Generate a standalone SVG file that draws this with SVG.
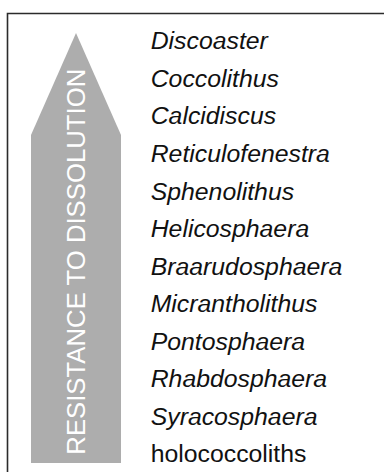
<svg xmlns="http://www.w3.org/2000/svg" width="384" height="472" viewBox="0 0 384 472">
<style>
.frame{fill:none;stroke:#2b2b2b;stroke-width:1.6}
.arrow{fill:#adadad}
.arrowlabel{font-family:"Liberation Sans",Arial,sans-serif;font-size:25.5px;fill:#ffffff;text-anchor:middle}
.sp{font-family:"Liberation Sans",Arial,sans-serif;font-size:24.8px;fill:#111111;font-style:italic}
.plain{font-style:normal}
</style>
<rect width="384" height="472" fill="#ffffff"/>
<path class="frame" d="M7.5 472 V13.5 H384"/>
<g id="arrow">
<polygon class="arrow" points="76,33 121,135 121,463 31,463 31,135"/>
<text class="arrowlabel" transform="translate(84.5,261.7) rotate(-90)" textLength="386" lengthAdjust="spacingAndGlyphs">RESISTANCE TO DISSOLUTION</text>
</g>
<g id="taxa">
<text class="sp" x="150.7" y="49.3">Discoaster</text>
<text class="sp" x="150.7" y="86.9">Coccolithus</text>
<text class="sp" x="150.7" y="124.4">Calcidiscus</text>
<text class="sp" x="150.7" y="162">Reticulofenestra</text>
<text class="sp" x="150.7" y="199.5">Sphenolithus</text>
<text class="sp" x="150.7" y="237.1">Helicosphaera</text>
<text class="sp" x="150.7" y="274.6">Braarudosphaera</text>
<text class="sp" x="150.7" y="312.2">Micrantholithus</text>
<text class="sp" x="150.7" y="349.7">Pontosphaera</text>
<text class="sp" x="150.7" y="387.3">Rhabdosphaera</text>
<text class="sp" x="150.7" y="424.8">Syracosphaera</text>
<text class="sp plain" x="150.7" y="462.4">holococcoliths</text>
</g>
</svg>
